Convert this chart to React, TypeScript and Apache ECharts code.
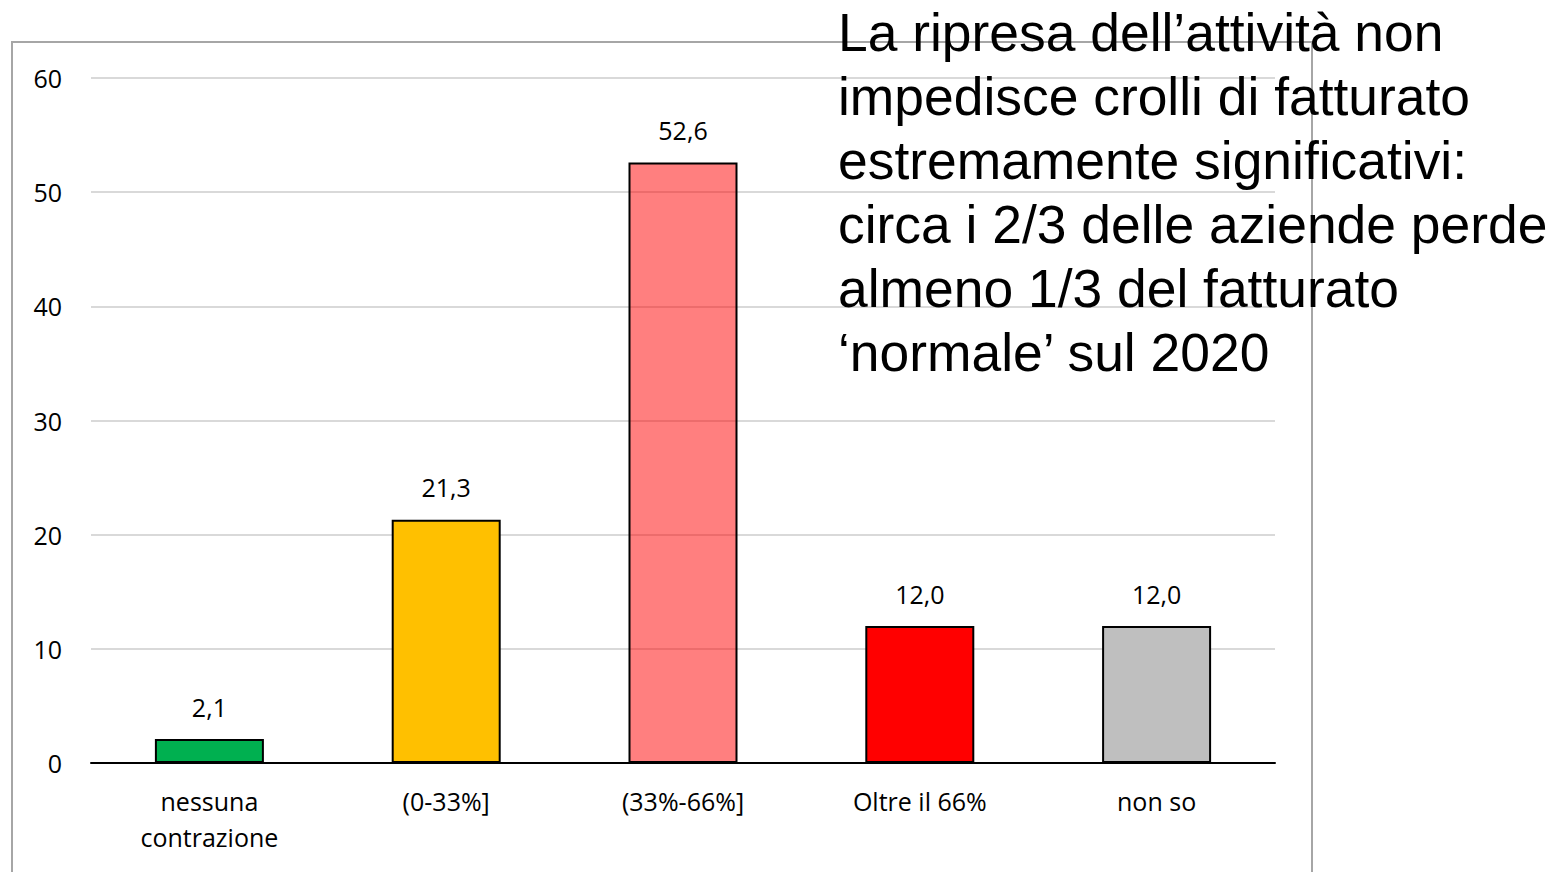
import React, { useEffect, useRef } from "react";
import * as echarts from "echarts";

const categories = ["nessuna\ncontrazione", "(0-33%]", "(33%-66%]", "Oltre il 66%", "non so"];
const values = [2.1, 21.3, 52.6, 12.0, 12.0];
const barColors = ["#00B050", "#FFC000", "rgba(255,0,0,0.5)", "#FF0000", "#BFBFBF"];
const titleLines = [
  "La ripresa dell\u2019attivit\u00e0 non",
  "impedisce crolli di fatturato",
  "estremamente significativi:",
  "circa i 2/3 delle aziende perde",
  "almeno 1/3 del fatturato",
  "\u2018normale\u2019 sul 2020",
];

export default function App() {
  const ref = useRef<HTMLDivElement>(null);
  useEffect(() => {
    if (!ref.current) return;
    const chart = echarts.init(ref.current, null, { renderer: "svg" });
    const font = "'Open Sans', sans-serif";
    chart.setOption({
      animation: false,
      backgroundColor: "#ffffff",
      grid: { left: 91, right: 277, top: 78, bottom: 109, containLabel: false },
      xAxis: {
        type: "category",
        data: categories,
        axisLine: { show: true, lineStyle: { color: "#000000", width: 2 } },
        axisTick: { show: false },
        axisLabel: {
          color: "#000000",
          fontFamily: font,
          fontSize: 25,
          lineHeight: 36,
          margin: 20,
          interval: 0,
        },
      },
      yAxis: {
        type: "value",
        min: 0,
        max: 60,
        interval: 10,
        axisLine: { show: false },
        axisTick: { show: false },
        splitLine: { lineStyle: { color: "#D9D9D9", width: 2 } },
        axisLabel: {
          color: "#000000",
          fontFamily: font,
          fontSize: 25,
          margin: 29,
        },
      },
      series: [
        {
          type: "bar",
          barWidth: 109,
          z: 3,
          data: values.map((v, i) => ({
            value: v,
            itemStyle: { color: barColors[i], borderColor: "#000000", borderWidth: 2 },
          })),
          label: {
            show: true,
            position: "top",
            distance: 20,
            color: "#000000",
            fontFamily: font,
            fontSize: 25,
            formatter: (p: any) => Number(p.value).toFixed(1).replace(".", ","),
          },
        },
      ],
      graphic: [
        {
          type: "rect",
          z: -10,
          silent: true,
          shape: { x: 12, y: 42, width: 1300, height: 850 },
          style: { fill: "none", stroke: "#A6A6A6", lineWidth: 2 },
        },
        ...titleLines.map((t, i) => ({
          type: "text",
          z: 100,
          x: 838,
          y: 32 + 64 * i,
          style: {
            text: t,
            fill: "#000000",
            fontFamily: "'Liberation Sans', Arial, sans-serif",
            fontSize: 53.4,
            verticalAlign: "middle",
            align: "left",
          },
        })),
      ],
    });
    return () => chart.dispose();
  }, []);
  return (
    <div
      ref={ref}
      style={{ position: "fixed", left: 0, top: 0, width: 1552, height: 872, background: "#fff" }}
    />
  );
}
